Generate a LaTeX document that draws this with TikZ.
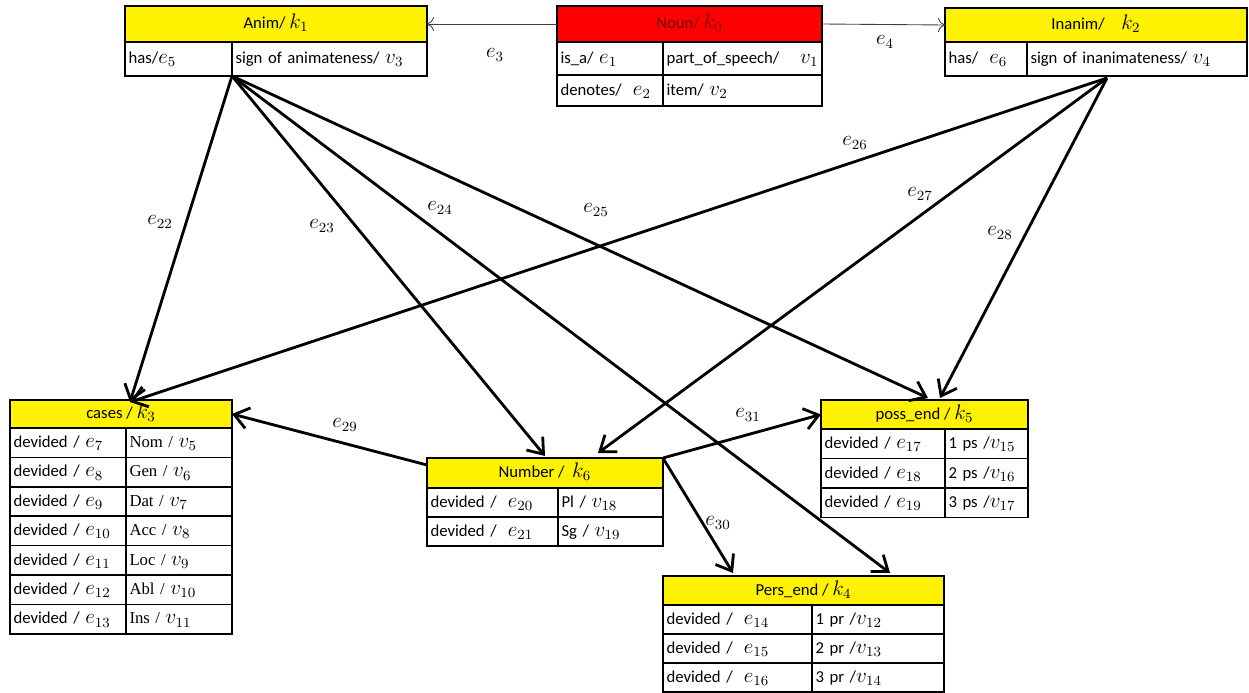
\documentclass[tikz,border=0pt]{standalone}
\usepackage{fontspec}
\setmainfont{Carlito}
\newfontfamily\caseserif{Liberation Serif}
\usetikzlibrary{arrows.meta}
\newcommand{\ev}[2]{{\fontsize{12}{12}\selectfont$#1_{#2}$}}

\begin{document}
\begin{tikzpicture}[
    x=0.02cm, y=-0.02cm,
    hdr/.style={draw=black, line width=0.8pt, fill=yellow, anchor=north west, outer sep=0pt, inner sep=0pt, text height=8pt, text depth=2.5pt, font=\fontsize{9.5}{11}\selectfont},
    cell/.style={draw=black, line width=0.8pt, anchor=north west, outer sep=0pt, inner xsep=2pt, inner ysep=0pt, align=left, text height=8pt, text depth=2.5pt, font=\fontsize{9.5}{11}\selectfont},
    lbl/.style={font=\fontsize{11.5}{13}\selectfont, inner sep=1pt},
    arrow/.style={-{Straight Barb[length=8pt,width=12pt]}, line width=1.6pt},
    link/.style={-{To[length=4pt,width=8pt]}, line width=0.5pt, black!75}
]
\useasboundingbox (0,0) rectangle (1249,693);

% Noun (top centre)
\node[hdr, fill=red, text=red!45!black, minimum width=5.30cm, minimum height=0.72cm] (nounH) at (557,6) {Noun/ \ev{k}{0}};
\node[cell, minimum height=0.66cm, text width=1.98cm] (nounL1) at (557,42) {is\_a/ \ev{e}{1}};
\node[cell, minimum height=0.66cm, text width=3.04cm] (nounR1) at (663,42) {part\_of\_speech/\hfill\ev{v}{1}};
\node[cell, minimum height=0.62cm, text width=1.98cm] (nounL2) at (557,75) {denotes/\ \ \ev{e}{2}};
\node[cell, minimum height=0.62cm, text width=3.04cm] (nounR2) at (663,75) {item/ \ev{v}{2}};

% Anim
\node[hdr, minimum width=6.04cm, minimum height=0.72cm] (animH) at (125,6) {Anim/ \ev{k}{1}};
\node[cell, minimum height=0.68cm, text width=2.00cm] (animL) at (125,42) {has/\ev{e}{5}};
\node[cell, minimum height=0.68cm, text width=3.76cm] (animR) at (232,42) {sign of animateness/ \ev{v}{3}};

% Inanim
\node[hdr, minimum width=6.04cm, minimum height=0.68cm] (inanimH) at (945,8) {Inanim/\quad \ev{k}{2}};
\node[cell, minimum height=0.68cm, text width=1.50cm] (inanimL) at (945,42) {has/\ \ \ev{e}{6}};
\node[cell, minimum height=0.68cm, text width=4.26cm] (inanimR) at (1027,42) {sign of inanimateness/\ \ev{v}{4}};

% cases
\node[hdr, minimum width=4.44cm, minimum height=0.56cm] (casesH) at (10,400) {cases / \ev{k}{3}};
\foreach \e/\c/\v [count=\r from 0] in {7/Nom/5, 8/Gen/6, 9/Dat/7, 10/Acc/8, 11/Loc/9, 12/Abl/10, 13/Ins/11} {
    \node[cell, minimum height=0.588cm, text width=2.18cm] (casesL\r) at (10,{428+29.4*\r}) {devided / \ev{e}{\e}};
    \node[cell, minimum height=0.588cm, text width=1.98cm] (casesR\r) at (126,{428+29.4*\r}) {{\caseserif\c\ /}\ \ev{v}{\v}};
}

% Number
\node[hdr, minimum width=4.72cm, minimum height=0.60cm] (numH) at (427,458) {Number /\ \ \ev{k}{6}};
\node[cell, minimum height=0.58cm, text width=2.48cm] (numL1) at (427,488) {devided /\ \ \ev{e}{20}};
\node[cell, minimum height=0.58cm, text width=1.96cm] (numR1) at (558,488) {Pl / \ev{v}{18}};
\node[cell, minimum height=0.58cm, text width=2.48cm] (numL2) at (427,517) {devided /\ \ \ev{e}{21}};
\node[cell, minimum height=0.58cm, text width=1.96cm] (numR2) at (558,517) {Sg / \ev{v}{19}};

% poss_end
\node[hdr, minimum width=4.14cm, minimum height=0.58cm] (possH) at (821,400) {poss\_end / \ev{k}{5}};
\foreach \e/\c/\v [count=\r from 0] in {17/1/15, 18/2/16, 19/3/17} {
    \node[cell, minimum height=0.59cm, text width=2.34cm] (possL\r) at (821,{429+29.5*\r}) {devided / \ev{e}{\e}};
    \node[cell, minimum height=0.59cm, text width=1.52cm] (possR\r) at (945,{429+29.5*\r}) {\c\ ps /\ev{v}{\v}};
}

% Pers_end
\node[hdr, minimum width=5.62cm, minimum height=0.58cm] (persH) at (663,576) {Pers\_end / \ev{k}{4}};
\foreach \e/\c/\v [count=\r from 0] in {14/1/12, 15/2/13, 16/3/14} {
    \node[cell, minimum height=0.58cm, text width=2.84cm] (persL\r) at (663,{605+29*\r}) {devided /\ \ \ev{e}{\e}};
    \node[cell, minimum height=0.58cm, text width=2.50cm] (persR\r) at (812,{605+29*\r}) {\c\ pr /\ev{v}{\v}};
}

% ends of the arrows
\coordinate (inanimsrc) at (1107,78);
\coordinate (casestop) at (130,402);
\coordinate (numtopA) at (545,456);
\coordinate (numtopB) at (598,453);
\coordinate (posstopA) at (928,398);
\coordinate (posstopB) at (940,398);
\coordinate (perstopA) at (733,573);
\coordinate (perstopB) at (890,573);
\coordinate (numout) at (427,465);

% links of Noun
\draw[link] (nounH.west) -- (animH.east);
\draw[link] (nounH.east) -- (inanimH.west);
\node[lbl] (e3) at (495,55) {$e_3$};
\node[lbl] (e4) at (885,42) {$e_4$};

% arrows from Anim
\draw[arrow] (animL.south east) -- (casestop);
\draw[arrow] (animL.south east) -- (numtopA);
\draw[arrow] (animL.south east) -- (perstopB);
\draw[arrow] (animL.south east) -- (posstopA);

% arrows from Inanim
\draw[arrow] (inanimsrc) -- (casestop);
\draw[arrow] (inanimsrc) -- (numtopB);
\draw[arrow] (inanimsrc) -- (posstopB);

% arrows from Number
\draw[arrow] (numout) -- (casesH.east);
\draw[arrow] (numH.north east) -- (possH.west);
\draw[arrow] (numH.north east) -- (perstopA);

\node[lbl] (e22) at (160,222) {$e_{22}$};
\node[lbl] (e23) at (322,226) {$e_{23}$};
\node[lbl] (e24) at (440,208) {$e_{24}$};
\node[lbl] (e25) at (596,210) {$e_{25}$};
\node[lbl] (e26) at (855,143) {$e_{26}$};
\node[lbl] (e27) at (920,194) {$e_{27}$};
\node[lbl] (e28) at (1000,233) {$e_{28}$};
\node[lbl] (e29) at (345,425) {$e_{29}$};
\node[lbl] (e30) at (718,523) {$e_{30}$};
\node[lbl] (e31) at (748,415) {$e_{31}$};

\end{tikzpicture}
\end{document}
